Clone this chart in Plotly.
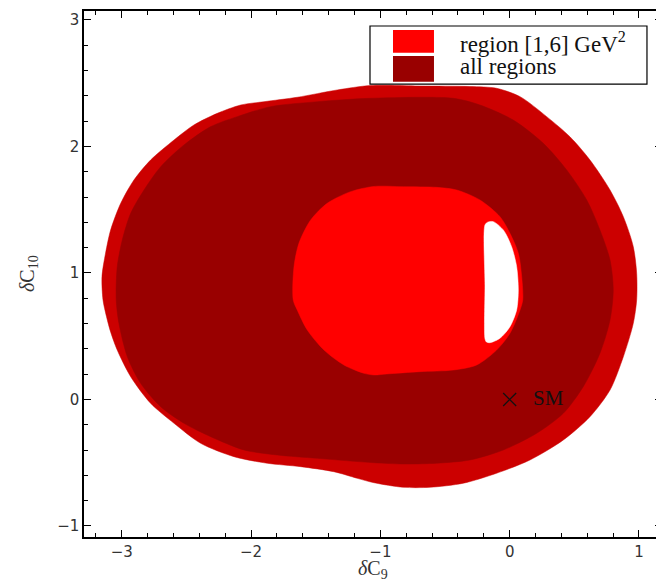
import plotly.graph_objects as go

# ---- data: region boundaries (dC9, dC10) ----
outer_x = [-3.145, -3.153, -3.125, -3.086, -3.008, -2.906, -2.777, -2.596, -2.442, -2.261,
           -2.080, -1.900, -1.643, -1.333, -1.075, -0.694, -0.307, -0.101, 0.080, 0.286,
           0.466, 0.621, 0.776, 0.879, 0.956, 0.982, 0.982, 0.956, 0.879, 0.776,
           0.621, 0.415, 0.157, -0.101, -0.359, -0.616, -0.823, -1.049, -1.179, -1.359,
           -1.616, -1.875, -2.132, -2.390, -2.596, -2.777, -2.931, -3.035, -3.085, -3.118]
outer_y = [0.787, 0.971, 1.158, 1.340, 1.551, 1.735, 1.893, 2.051, 2.170, 2.262,
           2.328, 2.354, 2.389, 2.447, 2.482, 2.478, 2.474, 2.460, 2.394, 2.236,
           2.077, 1.893, 1.656, 1.445, 1.208, 0.998, 0.787, 0.602, 0.338, 0.075,
           -0.136, -0.320, -0.478, -0.583, -0.662, -0.694, -0.694, -0.658, -0.623, -0.571,
           -0.531, -0.504, -0.452, -0.346, -0.188, -0.030, 0.180, 0.391, 0.530, 0.655]

all_x = [-3.043, -3.035, -2.996, -2.931, -2.828, -2.699, -2.519, -2.312, -2.107, -1.848,
         -1.488, -1.080, -0.436, -0.230, 0.028, 0.260, 0.441, 0.596, 0.698, 0.776,
         0.801, 0.776, 0.698, 0.569, 0.415, 0.209, -0.049, -0.307, -0.565, -0.823,
         -1.049, -1.488, -1.797, -2.055, -2.312, -2.519, -2.699, -2.854, -2.957, -3.022]
all_y = [0.787, 1.050, 1.261, 1.472, 1.656, 1.840, 2.012, 2.157, 2.236, 2.315,
         2.354, 2.381, 2.381, 2.328, 2.209, 2.025, 1.814, 1.577, 1.340, 1.103,
         0.866, 0.628, 0.365, 0.101, -0.109, -0.267, -0.399, -0.478, -0.504, -0.510,
         -0.500, -0.465, -0.439, -0.399, -0.294, -0.188, -0.057, 0.128, 0.338, 0.602]

bin_x = [-1.674, -1.668, -1.630, -1.539, -1.411, -1.230, -1.049, -0.823, -0.565, -0.410,
         -0.230, -0.075, 0.002, 0.067, 0.093, 0.101, 0.080, 0.002, -0.101, -0.255,
         -0.436, -0.694, -0.951, -1.049, -1.127, -1.282, -1.436, -1.565, -1.643]
bin_y = [0.787, 1.050, 1.235, 1.419, 1.551, 1.643, 1.684, 1.682, 1.677, 1.656,
         1.577, 1.445, 1.314, 1.156, 0.971, 0.787, 0.708, 0.523, 0.391, 0.273,
         0.233, 0.220, 0.202, 0.194, 0.207, 0.273, 0.391, 0.549, 0.708]

hole_x = [-0.191, -0.170, -0.127, -0.049, 0.015, 0.054, 0.067, 0.054, 0.002, -0.075, -0.152, -0.180, -0.191, -0.191]
hole_y = [1.380, 1.402, 1.406, 1.340, 1.208, 1.050, 0.866, 0.708, 0.575, 0.484, 0.449, 0.455, 0.480, 0.900]

sm_x = [0.0]
sm_y = [0.0]

x_ticks = [-3, -2, -1, 0, 1]
y_ticks = [-1, 0, 1, 2, 3]

c_outer = "#CC0000"
c_all = "#990000"
c_bin = "#FF0000"


def closed(xs, ys, start):
    # start the closed path on a flat stretch so the spline seam is invisible
    xs = xs[start:] + xs[:start]
    ys = ys[start:] + ys[:start]
    return xs + xs[:1], ys + ys[:1]


fig = go.Figure()
for xs, ys, start, col in [(outer_x, outer_y, 15, c_outer), (all_x, all_y, 12, c_all),
                           (bin_x, bin_y, 7, c_bin), (hole_x, hole_y, 13, "#FFFFFF")]:
    px, py = closed(xs, ys, start)
    fig.add_trace(go.Scatter(x=px, y=py, mode="lines", fill="toself",
                             fillcolor=col, line=dict(color=col, width=0.5, shape="spline", smoothing=0.8),
                             hoverinfo="skip", showlegend=False))

fig.add_trace(go.Scatter(x=sm_x, y=sm_y, mode="markers",
                         marker=dict(symbol="x-thin", size=13, line=dict(color="#111111", width=1.3)),
                         hoverinfo="skip", showlegend=False))
fig.add_annotation(x=sm_x[0] + 0.30, y=sm_y[0] + 0.01, xref="x", yref="y", text="SM", showarrow=False,
                   font=dict(family="Liberation Serif", size=21, color="#111111"))

axis_common = dict(showgrid=False, zeroline=False, showline=True, linecolor="black", linewidth=1.5,
                   mirror="ticks", ticks="inside", ticklen=7, tickwidth=1, tickcolor="black",
                   tickfont=dict(family="DejaVu Sans", size=15, color="#333333"),
                   minor=dict(dtick=0.2, ticks="inside", ticklen=4, tickwidth=1, tickcolor="black"))

# page body has an 8px margin: size the figure so the plot frame lands where it should
fig.update_layout(
    width=656, height=578,
    margin=dict(l=76, r=2, t=3, b=49),
    paper_bgcolor="white", plot_bgcolor="white",
    xaxis=dict(range=[-3.292, 1.178], tickvals=x_ticks, automargin=False, **axis_common),
    yaxis=dict(range=[-1.087, 3.071], tickvals=y_ticks, automargin=False, **axis_common),
    showlegend=False,
)

# axis titles
fig.add_annotation(x=0.5, y=-0.0627, xref="paper", yref="paper", text="<i>δ</i>C<sub>9</sub>",
                   showarrow=False, yanchor="middle",
                   font=dict(family="Liberation Serif", size=20, color="#333333"))
fig.add_annotation(x=-0.0952, y=0.502, xref="paper", yref="paper", text="<i>δ</i>C<sub>10</sub>",
                   showarrow=False, textangle=-90, xanchor="center", yanchor="middle",
                   font=dict(family="Liberation Serif", size=20, color="#333333"))

# custom legend
fig.add_shape(type="rect", xref="paper", yref="paper", x0=0.4948, x1=0.974, y0=0.861, y1=0.9715,
              line=dict(color="black", width=1.2), fillcolor="white", layer="above")
fig.add_shape(type="rect", xref="paper", yref="paper", x0=0.5346, x1=0.6055, y0=0.9207, y1=0.9639,
              line=dict(width=0), fillcolor=c_bin, layer="above")
fig.add_shape(type="rect", xref="paper", yref="paper", x0=0.5346, x1=0.6055, y0=0.8656, y1=0.9144,
              line=dict(width=0), fillcolor=c_all, layer="above")
fig.add_annotation(x=0.647, y=0.941, xref="paper", yref="paper", text="region [1,6] GeV<sup>2</sup>",
                   showarrow=False, xanchor="left", yanchor="middle",
                   font=dict(family="Liberation Serif", size=23, color="#111111"))
fig.add_annotation(x=0.647, y=0.8954, xref="paper", yref="paper", text="all regions",
                   showarrow=False, xanchor="left", yanchor="middle",
                   font=dict(family="Liberation Serif", size=23, color="#111111"))

fig.write_html("out.html")
